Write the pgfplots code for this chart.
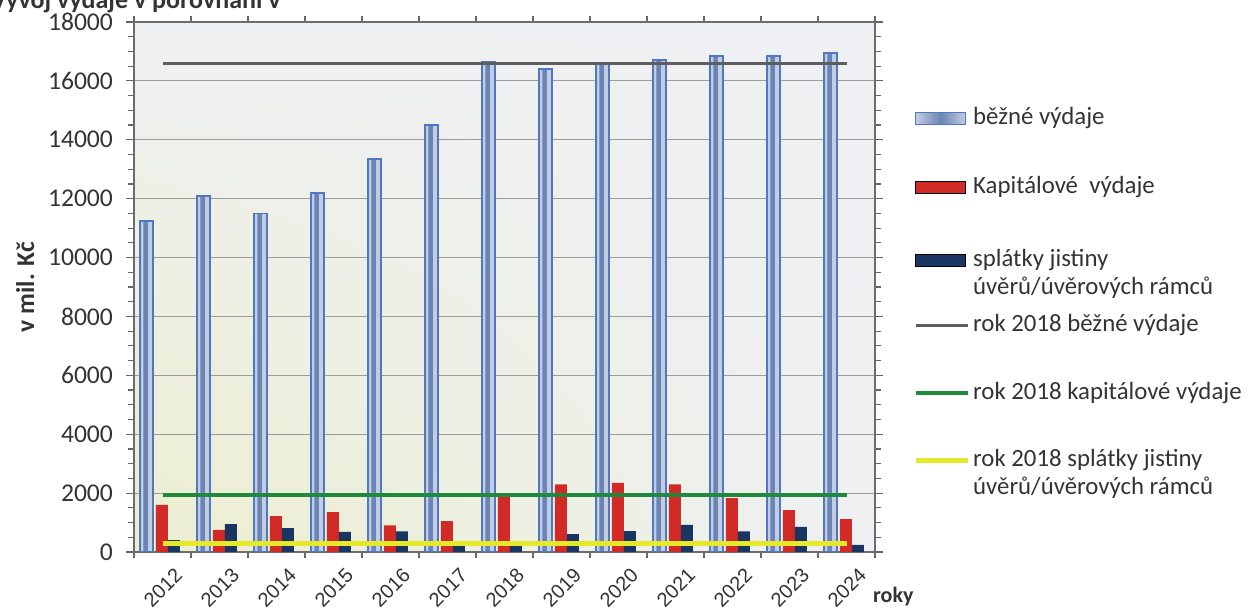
\documentclass[border=0pt]{standalone}
\usepackage{pgfplots}
\usepackage{pgfplotstable}
\pgfplotsset{compat=1.18}
\usetikzlibrary{shadings}
\usepackage{fontspec}
\setmainfont{Carlito}
\newfontfamily\yearfont{Liberation Sans}

\definecolor{barblue}{HTML}{6A85B5}
\definecolor{barlight}{HTML}{C3CDE2}
\definecolor{barline}{HTML}{4F78C0}
\definecolor{capred}{HTML}{D22A26}
\definecolor{navy}{HTML}{1B3563}
\definecolor{refgray}{HTML}{5E5E5E}
\definecolor{refgreen}{HTML}{1F8A3B}
\definecolor{refyellow}{HTML}{E6E82A}
\definecolor{txt}{HTML}{333333}
\definecolor{plotbg}{HTML}{EFF0F3}
\definecolor{glow}{HTML}{ECEFCF}
\definecolor{gridgray}{HTML}{9B9B9B}

% rok, bezne, kapitalove, splatky (mil. Kc)
\pgfplotstableread{
x bezne kap spl
0  11250 1600 400
1  12100  750 950
2  11500 1220 810
3  12200 1350 680
4  13350  900 700
5  14500 1050 250
6  16650 1900 250
7  16400 2300 610
8  16600 2350 710
9  16700 2300 920
10 16850 1830 700
11 16850 1420 850
12 16950 1120 240
}\vydaje

% urovne roku 2018
\pgfplotstableread{
x bezne kap spl
0  16600 1950 280
12 16600 1950 280
}\rok

\pgfplotsset{
  barbox legend/.style={legend image code/.code={\draw[##1] (0pt,0pt) rectangle (25pt,6pt);}},
  bluebox legend/.style={legend image code/.code={%
      \draw[draw=barline, line width=0.8pt, left color=barlight, right color=barlight,
            middle color=barblue] (0pt,0pt) rectangle (25pt,6pt);}},
  refline legend/.style={legend image code/.code={\draw[##1] (0pt,3pt) -- (26pt,3pt);}},
}
\newcommand{\rowstrut}[1]{\rule[-#1]{0pt}{\dimexpr#1+9pt\relax}}

\begin{document}
\begin{tikzpicture}
\node[anchor=base west, font=\bfseries\fontsize{13}{15}\selectfont, text=txt]
  at (-8pt,302.5pt) {Vývoj výdaje v porovnání v};
\begin{axis}[
    at={(67pt,31pt)}, anchor=south west,
    scale only axis,
    width=370.5pt, height=265pt,
    xmin=-0.5, xmax=12.5,
    ymin=0, ymax=18000,
    xtick={0,...,12},
    xticklabels={2012,2013,2014,2015,2016,2017,2018,2019,2020,2021,2022,2023,2024},
    minor xtick={-0.5,0.5,...,12.5},
    ytick={0,2000,...,18000},
    minor y tick num=3,
    ymajorgrids,
    major grid style={draw=gridgray, line width=0.6pt},
    tick align=outside,
    major tick length=4pt,
    minor tick length=3pt,
    major x tick style={draw=none},
    tick style={draw=gray!80!black, line width=0.6pt},
    axis line style={draw=gray!85!black, line width=0.8pt},
    axis background/.style={shade, lower left=glow, upper left=plotbg,
                            upper right=plotbg, lower right=plotbg},
    scaled y ticks=false,
    /pgf/number format/1000 sep={},
    /pgf/number format/assume math mode=true,
    y tick label style={font=\fontsize{12.8}{14}\selectfont, text=txt, xshift=-3pt},
    x tick label style={font=\yearfont\fontsize{10}{12}\selectfont, text=txt,
                        rotate=45, anchor=east, xshift=5pt, yshift=-10pt},
    ylabel={v mil. Kč},
    ylabel style={font=\bfseries\fontsize{12.8}{14}\selectfont, text=txt},
    xlabel={roky},
    xlabel style={at={(axis description cs:0.988,-0.096)}, anchor=base west,
                  font=\bfseries\fontsize{11}{13}\selectfont, text=txt},
    legend style={at={(1.051,0.8415)}, anchor=north west, draw=none, fill=none,
                  inner sep=0pt, row sep=0pt, column sep=1.5pt,
                  font=\fontsize{12.4}{14}\selectfont, text=txt,
                  nodes={inner sep=0pt, text depth=},
                  cells={anchor=base west}},
]
% bezne vydaje: svetly sloupec, tmavsi stred, modry obrys
\addplot[ybar, bar width=0.22, bar shift=-0.28, draw=none, fill=barlight, bluebox legend]
  table[x=x, y=bezne] {\vydaje};
\addlegendentry{\rowstrut{25.5pt}běžné výdaje}
\addplot[ybar, bar width=0.08, bar shift=-0.295, draw=none, fill=barblue, forget plot]
  table[x=x, y=bezne] {\vydaje};
\addplot[ybar, bar width=0.22, bar shift=-0.28, draw=barline, line width=0.8pt,
         fill=none, forget plot]
  table[x=x, y=bezne] {\vydaje};
\addplot[ybar, bar width=0.21, bar shift=-0.01, draw=none, fill=capred, barbox legend]
  table[x=x, y=kap] {\vydaje};
\addlegendentry{\rowstrut{27.5pt}Kapitálové\ \ výdaje}
\addplot[ybar, bar width=0.21, bar shift=0.2, draw=none, fill=navy, barbox legend]
  table[x=x, y=spl] {\vydaje};
\addlegendentry{\rowstrut{5pt}splátky jistiny}
\addlegendimage{empty legend}
\addlegendentry{\rowstrut{9.5pt}úvěrů/úvěrových rámců}
\addplot[refgray, line width=1.5pt, mark=none, refline legend]
  table[x=x, y=bezne] {\rok};
\addlegendentry{\rowstrut{25pt}rok 2018 běžné výdaje}
\addplot[refgreen, line width=2pt, mark=none, refline legend]
  table[x=x, y=kap] {\rok};
\addlegendentry{\rowstrut{24.5pt}rok 2018 kapitálové výdaje}
\addplot[refyellow, line width=2.5pt, mark=none, refline legend]
  table[x=x, y=spl] {\rok};
\addlegendentry{\rowstrut{5pt}rok 2018 splátky jistiny}
\addlegendimage{empty legend}
\addlegendentry{\rowstrut{3pt}úvěrů/úvěrových rámců}
\end{axis}
\pgfresetboundingbox
\path[use as bounding box] (0,0) rectangle (627pt,307pt);
\end{tikzpicture}
\end{document}
